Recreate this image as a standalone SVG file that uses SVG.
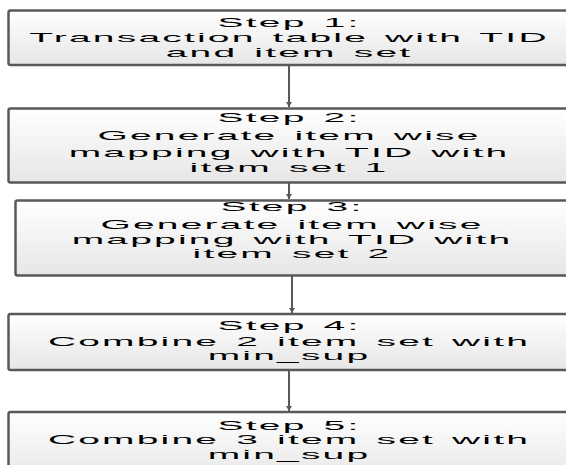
<svg xmlns="http://www.w3.org/2000/svg" width="566" height="465" viewBox="0 0 566 465">
<defs>
<linearGradient id="bg" x1="0" y1="0" x2="0" y2="1">
<stop offset="0" stop-color="#ffffff"/>
<stop offset="1" stop-color="#e6e6e6"/>
</linearGradient>
<marker id="ah" markerWidth="6" markerHeight="6" refX="5" refY="3" orient="auto" markerUnits="userSpaceOnUse">
<path d="M0,0 L5,3 L0,6 Z" fill="#595959"/>
</marker>
<style>
.box{fill:url(#bg);stroke:#595959;stroke-width:2.5}
.t{font-family:"Liberation Sans",Arial,sans-serif;font-size:13px;fill:#000;text-anchor:middle;letter-spacing:0.73px;word-spacing:1.33px}
.c{stroke:#595959;stroke-width:2;fill:none;marker-end:url(#ah)}
</style>
</defs>
<rect width="566" height="465" fill="#ffffff"/>
<g id="connectors">
<line class="c" x1="289" y1="65" x2="289" y2="107"/>
<line class="c" x1="289" y1="183" x2="289" y2="199"/>
<line class="c" x1="292" y1="276" x2="292" y2="313"/>
<line class="c" x1="289" y1="370" x2="289" y2="411"/>
</g>
<g id="step1">
<rect class="box" x="8.5" y="10.5" width="565" height="54.5" rx="2"/>
<g transform="translate(289 0) scale(3 1)">
<text class="t" x="0" y="27">Step 1:</text>
<text class="t" x="0" y="42">Transaction table with TID</text>
<text class="t" x="0" y="57.5">and item set</text>
</g>
</g>
<g id="step2">
<rect class="box" x="8.5" y="108.5" width="565" height="74" rx="2"/>
<g transform="translate(289 0) scale(3 1)">
<text class="t" x="0" y="122">Step 2:</text>
<text class="t" x="0" y="140.5">Generate item wise</text>
<text class="t" x="0" y="157">mapping with TID with</text>
<text class="t" x="0" y="172.5">item set 1</text>
</g>
</g>
<g id="step3">
<rect class="box" x="15.5" y="200.5" width="565" height="75" rx="2"/>
<g transform="translate(292 0) scale(3 1)">
<text class="t" x="0" y="211.5">Step 3:</text>
<text class="t" x="0" y="229">Generate item wise</text>
<text class="t" x="0" y="244">mapping with TID with</text>
<text class="t" x="0" y="258">item set 2</text>
</g>
</g>
<g id="step4">
<rect class="box" x="8.5" y="314" width="565" height="56" rx="2"/>
<g transform="translate(289 0) scale(3 1)">
<text class="t" x="0" y="330">Step 4:</text>
<text class="t" x="0" y="346">Combine 2 item set with</text>
<text class="t" x="0" y="360">min_sup</text>
</g>
</g>
<g id="step5">
<rect class="box" x="8.5" y="412" width="565" height="70" rx="2"/>
<g transform="translate(289 0) scale(3 1)">
<text class="t" x="0" y="430">Step 5:</text>
<text class="t" x="0" y="444.5">Combine 3 item set with</text>
<text class="t" x="0" y="459">min_sup</text>
</g>
</g>
</svg>
